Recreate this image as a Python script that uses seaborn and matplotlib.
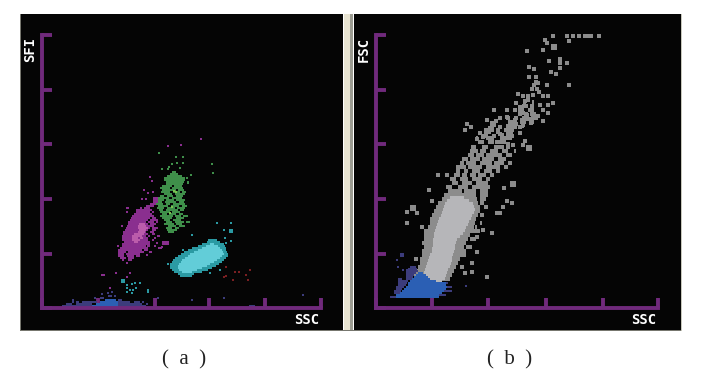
import matplotlib
matplotlib.use('Agg')
import matplotlib.pyplot as plt
from matplotlib.patches import Rectangle
import seaborn as sns

# tick channels, panels a and b
ticks_y = [0, 54, 109, 164, 218, 273]
ticks_a_x = [0, 56, 113, 167, 223, 279]
ticks_b_x = [0, 56, 112, 170, 227, 282]

# gated regions read row by row: (channel y, channel x from, channel x to)
green_rows = [(136, 130, 134), (134, 128, 136), (132, 125, 140), (130, 122, 143), (130, 144, 146), (128, 122, 143),
              (126, 124, 142), (126, 145, 147), (124, 124, 141), (122, 120, 130), (122, 132, 140), (120, 118, 128),
              (120, 130, 141), (118, 120, 134), (118, 136, 142), (116, 119, 128), (116, 131, 138), (116, 140, 144),
              (114, 122, 130), (114, 133, 143), (112, 118, 122), (112, 125, 131), (112, 134, 141), (110, 116, 127),
              (110, 130, 140), (108, 114, 122), (108, 124, 132), (108, 134, 143), (106, 116, 120), (106, 123, 134),
              (106, 137, 142), (104, 114, 121), (104, 124, 128), (104, 131, 143), (102, 116, 126), (102, 129, 137),
              (102, 140, 145), (100, 115, 122), (100, 125, 133), (100, 135, 143), (98, 117, 121), (98, 124, 136),
              (98, 138, 142), (96, 118, 128), (96, 130, 138), (94, 120, 125), (94, 127, 134), (94, 137, 141),
              (92, 118, 131), (92, 133, 139), (92, 141, 146), (90, 120, 130), (90, 134, 142), (88, 122, 128),
              (88, 131, 139), (86, 124, 130), (86, 133, 142), (86, 144, 148), (84, 122, 132), (84, 134, 140),
              (82, 126, 134), (82, 137, 143), (80, 124, 130), (80, 133, 137), (78, 125, 135), (76, 126, 132)]
magenta_rows = [(110, 111, 116), (108, 111, 116), (106, 111, 116), (104, 108, 114), (102, 104, 112), (100, 84, 87),
                (100, 98, 100), (100, 102, 108), (98, 94, 110), (96, 94, 108), (96, 110, 112), (94, 92, 110),
                (92, 90, 112), (90, 89, 108), (90, 110, 114), (88, 88, 106), (88, 108, 116), (86, 86, 104),
                (86, 106, 112), (86, 114, 116), (84, 86, 106), (84, 108, 114), (82, 85, 102), (82, 104, 112),
                (80, 84, 108), (80, 110, 116), (78, 83, 106), (78, 110, 114), (76, 81, 104), (76, 108, 112),
                (74, 81, 106), (74, 110, 113), (72, 80, 104), (72, 106, 108), (72, 115, 118), (70, 80, 106),
                (70, 112, 114), (68, 80, 106), (68, 110, 112), (66, 82, 108), (66, 120, 127), (64, 80, 108),
                (64, 120, 127), (62, 80, 104), (62, 105, 108), (62, 112, 114), (60, 78, 106), (60, 116, 120),
                (58, 76, 100), (58, 102, 106), (56, 76, 84), (56, 86, 102), (56, 108, 110), (54, 76, 82),
                (54, 84, 98), (52, 76, 82), (52, 85, 92), (52, 94, 98), (50, 78, 84), (50, 86, 92), (48, 80, 82), (48, 86, 90)]
magenta_core_rows = [(84, 97, 103), (82, 96, 104), (80, 96, 106), (78, 97, 104), (76, 96, 103), (74, 92, 102),
                     (72, 90, 100), (70, 90, 96), (70, 98, 101), (68, 90, 98), (66, 92, 96)]
cyan_rows = [(68, 166, 175), (66, 165, 178), (64, 160, 182), (62, 156, 183), (60, 150, 184), (58, 146, 184),
             (56, 142, 185), (54, 139, 186), (52, 136, 186), (50, 133, 184), (48, 131, 182), (46, 130, 180),
             (44, 128, 177), (42, 128, 174), (40, 128, 170), (38, 130, 166), (36, 132, 160), (34, 136, 152), (32, 138, 150)]
cyan_core_rows = [(64, 168, 172), (62, 164, 176), (60, 160, 178), (58, 156, 180), (56, 152, 181), (54, 148, 182),
                  (52, 146, 180), (50, 143, 178), (48, 140, 175), (46, 139, 172), (44, 137, 168), (42, 136, 165),
                  (40, 136, 160), (38, 137, 155), (36, 140, 150)]
blue_a_rows = [(8, 63, 74), (6, 58, 76), (4, 54, 76), (2, 50, 76)]
navy_a_rows = [(12, 66, 70), (12, 72, 74), (10, 52, 54), (10, 58, 62), (8, 30, 32), (8, 76, 80), (6, 30, 32), (6, 34, 37),
               (6, 40, 55), (6, 76, 88), (6, 92, 98), (6, 100, 102), (4, 24, 30), (4, 34, 50), (4, 76, 100),
               (4, 104, 106), (2, 20, 50), (2, 76, 104)]

gray_rows = [(206, 147, 150), (206, 156, 158), (202, 146, 152), (202, 155, 158), (198, 144, 148), (198, 152, 156),
             (194, 142, 146), (194, 148, 152), (194, 154, 160), (190, 130, 134), (190, 138, 142), (190, 146, 150),
             (190, 155, 162), (186, 132, 140), (186, 144, 150), (186, 153, 158), (182, 114, 118), (182, 130, 140),
             (182, 146, 148), (178, 114, 118), (178, 120, 124), (178, 128, 138), (174, 108, 112), (174, 122, 126),
             (174, 130, 137), (170, 100, 102), (170, 110, 118), (170, 124, 136), (166, 102, 108), (166, 112, 118),
             (166, 122, 130), (161, 95, 100), (161, 106, 112), (161, 118, 128), (161, 130, 134), (157, 94, 102), (157, 104, 110),
             (157, 114, 122), (157, 126, 132), (157, 138, 140), (153, 92, 98), (153, 100, 108), (153, 110, 126),
             (153, 130, 136), (149, 86, 92), (149, 94, 104), (149, 106, 118), (149, 122, 130), (145, 84, 88),
             (145, 90, 100), (145, 104, 116), (145, 118, 128), (145, 132, 136), (141, 80, 90), (141, 92, 106),
             (141, 110, 124), (141, 128, 132), (137, 80, 84), (137, 88, 92), (137, 96, 104), (137, 108, 116),
             (137, 120, 124), (133, 78, 84), (133, 86, 91), (133, 94, 100), (133, 102, 110), (133, 114, 118),
             (129, 74, 80), (129, 84, 92), (129, 96, 106), (129, 110, 114), (125, 76, 82), (125, 86, 96),
             (125, 100, 112), (121, 70, 76), (121, 82, 92), (121, 96, 114), (117, 72, 86), (117, 88, 100),
             (117, 104, 112), (113, 68, 100), (113, 104, 112), (109, 66, 101), (109, 104, 110), (105, 62, 102),
             (105, 104, 108), (101, 60, 104), (101, 108, 112), (97, 58, 104), (93, 56, 102), (93, 104, 108),
             (89, 54, 100), (85, 54, 99), (85, 104, 106), (81, 52, 98), (81, 99, 101), (77, 48, 100), (77, 96, 104),
             (73, 48, 94), (69, 48, 92), (69, 94, 100), (65, 46, 90), (61, 48, 88), (61, 90, 96), (57, 46, 90),
             (53, 46, 86), (53, 86, 90), (49, 44, 84), (45, 44, 82), (41, 42, 80), (41, 84, 88), (37, 40, 78),
             (33, 38, 76), (29, 40, 74)]
gray_core_rows = [(111, 74, 88), (108, 71, 93), (105, 69, 97), (102, 68, 98), (99, 67, 99), (96, 66, 98), (93, 65, 96),
                  (90, 63, 95), (87, 62, 93), (84, 61, 92), (81, 60, 90), (78, 59, 89), (75, 58, 87), (72, 58, 84),
                  (69, 57, 81), (66, 57, 80), (63, 57, 79), (60, 56, 79), (57, 56, 78), (54, 54, 77), (51, 53, 76),
                  (48, 52, 76), (45, 51, 75), (42, 50, 74), (39, 49, 72), (36, 48, 71), (33, 47, 70), (30, 47, 69),
                  (27, 52, 66)]
blue_b_rows = [(35, 42, 47), (33, 40, 50), (31, 38, 52), (29, 36, 54), (27, 34, 60), (25, 32, 70), (23, 32, 70),
               (21, 30, 71), (19, 28, 70), (17, 26, 68), (15, 24, 66), (13, 20, 63), (11, 20, 63)]
navy_b_rows = [(41, 34, 40), (39, 32, 41), (37, 30, 42), (35, 30, 40), (33, 30, 38), (31, 30, 37), (29, 22, 26),
               (29, 30, 36), (27, 22, 32), (25, 22, 31), (25, 66, 72), (23, 22, 30), (21, 20, 28), (21, 70, 76),
               (19, 20, 26), (17, 18, 25), (17, 66, 76), (15, 18, 24), (13, 63, 70), (11, 14, 22)]

# single events, panel a
green_x = [117, 134, 141, 130, 135, 141, 138, 120, 126, 170, 171, 149, 146, 123, 127]
green_y = [155, 151, 151, 144, 145, 145, 140, 139, 139, 144, 135, 133, 125, 129, 141]
lime_x = [134, 130, 128, 132]
lime_y = [116, 101, 95, 117]
magenta_x = [126, 139, 159, 108, 110, 102, 106, 111, 100, 104, 85, 80, 76, 85, 60, 62, 74, 85, 88, 68, 115, 120, 105, 108]
magenta_y = [162, 163, 169, 131, 127, 118, 115, 116, 109, 109, 96, 82, 62, 45, 33, 33, 35, 31, 35, 20, 65, 61, 53, 56]
cyan_x = [175, 189, 188, 190, 188, 190, 182, 189, 184, 183, 80, 82, 80, 82, 98, 106, 106, 126, 141, 150, 168, 178, 85, 85, 85, 90, 93, 88, 91, 94, 90]
cyan_y = [85, 85, 78, 78, 76, 76, 78, 67, 65, 70, 28, 28, 26, 26, 25, 18, 16, 44, 58, 73, 35, 38, 23, 20, 16, 24, 25, 18, 18, 20, 15]
red_x = [184, 193, 197, 208, 204, 184, 182, 191, 206]
red_y = [41, 36, 36, 38, 33, 32, 31, 28, 28]
navy_x = [116, 150, 182, 208, 210, 212, 261, 60, 66, 70]
navy_y = [10, 8, 10, 2, 2, 2, 13, 14, 15, 16]

# single events, panel b
gray_x = [177, 191, 197, 203, 209, 212, 215, 223, 169, 171, 177, 179, 177, 179, 193, 151, 167, 184, 184, 184, 191, 173, 175, 180,
          153, 158, 153, 160, 160, 158, 162, 171, 193, 156, 161, 163, 142, 147, 152, 157, 167, 172, 149, 152, 140, 177, 156,
          144, 164, 172, 118, 131, 139, 144, 156, 167, 172, 147, 151, 157, 131, 139, 146, 152, 156, 162, 167, 116, 111, 120,
          134, 155, 147, 139, 144, 91, 95, 89, 114, 124, 134, 113, 126, 134, 144, 134, 107, 101, 106, 114, 121, 126, 149, 137,
          147, 152, 154, 152, 154, 62, 71, 53, 36, 38, 36, 38, 31, 41, 31, 46, 56, 131, 136, 127, 121, 124, 116, 107, 101, 101,
          96, 96, 89, 111, 40, 136, 138, 136, 138, 128, 116, 118, 122, 130, 136, 128, 132, 110, 104, 108, 118, 136, 140, 124]
gray_y = [272, 272, 272, 272, 272, 272, 272, 272, 268, 265, 262, 262, 260, 260, 267, 257, 258, 249, 245, 240, 245, 247, 236, 234,
          241, 239, 231, 231, 226, 223, 225, 223, 223, 219, 219, 216, 214, 212, 212, 213, 212, 212, 207, 208, 205, 205, 202,
          201, 203, 203, 198, 198, 198, 198, 198, 198, 195, 195, 193, 192, 191, 188, 188, 189, 189, 192, 187, 185, 188, 187,
          184, 185, 183, 181, 181, 184, 181, 178, 180, 181, 180, 176, 173, 175, 175, 170, 171, 169, 166, 166, 166, 166, 167, 163,
          163, 161, 161, 159, 159, 133, 133, 118, 101, 101, 99, 99, 96, 95, 85, 81, 107, 107, 105, 101, 95, 95, 75, 78, 71, 56,
          45, 36, 35, 31, 49, 125, 125, 123, 123, 120, 170, 172, 176, 178, 172, 168, 164, 178, 175, 172, 183, 178, 184, 190]
navy_b_x = [25, 27, 25, 27, 21, 22, 27, 31, 90]
navy_b_y = [54, 54, 52, 52, 48, 41, 38, 38, 22]


def draw_rows(ax, rows, color, height=2.0):
    y, start, stop = zip(*rows)
    width = [b - a for a, b in zip(start, stop)]
    ax.barh(y, width, left=start, height=height, color=color, linewidth=0)


def draw_events(ax, x, y, color, size=3):
    sns.scatterplot(x=x, y=y, ax=ax, color=color, marker='s', s=size, linewidth=0, legend=False)


def setup_panel(left, right, origin, xticks):
    fig_w, fig_h = 702, 380
    ax = fig.add_axes([left / fig_w, 1 - 330 / fig_h, (right - left) / fig_w, 316 / fig_h])
    ax.set_facecolor('#050505')
    ax.set_xlim(left - origin, right - origin)
    ax.set_ylim(-22, 294)
    sns.despine(ax=ax)
    for side in ['bottom', 'left']:
        ax.spines[side].set_position(('data', 0))
        ax.spines[side].set_color(axis_color)
        ax.spines[side].set_linewidth(2.8)
        ax.spines[side].set_zorder(6)
    ax.spines['bottom'].set_bounds(0, xticks[-1])
    ax.spines['left'].set_bounds(0, ticks_y[-1])
    ax.set_xticks(xticks)
    ax.set_yticks(ticks_y)
    ax.tick_params(left=True, bottom=True, direction='in', length=7.5, width=2.8, color=axis_color,
                   labelbottom=False, labelleft=False, zorder=6)
    return ax


axis_color = '#702a7c'
sns.set_style('dark')
plt.rcParams['axes.grid'] = False
fig = plt.figure(figsize=(7.02, 3.80), dpi=100, facecolor='white')

ax_a = setup_panel(20, 343, 42, ticks_a_x)
ax_b = setup_panel(354, 681, 376, ticks_b_x)

# panel a
draw_rows(ax_a, green_rows, '#3f8f4a')
draw_events(ax_a, green_x, green_y, '#3f8f4a')
draw_events(ax_a, lime_x, lime_y, '#7cc34f')
draw_rows(ax_a, magenta_rows, '#8a2f8f')
draw_rows(ax_a, magenta_core_rows, '#bb5cab')
draw_events(ax_a, magenta_x, magenta_y, '#8a2f8f')
draw_rows(ax_a, cyan_rows, '#2b9aa3')
draw_rows(ax_a, cyan_core_rows, '#62cdd8')
draw_events(ax_a, cyan_x, cyan_y, '#2b9aa3')
draw_events(ax_a, red_x, red_y, '#7a1f22')
draw_rows(ax_a, navy_a_rows, '#3c3c7c')
draw_events(ax_a, navy_x, navy_y, '#3c3c7c')
draw_rows(ax_a, blue_a_rows, '#2b5fb4')

# panel b
draw_rows(ax_b, gray_rows, '#8c8c8c', height=3.4)
draw_events(ax_b, gray_x, gray_y, '#8c8c8c', size=5)
draw_rows(ax_b, gray_core_rows, '#b6b6b9', height=3.0)
draw_rows(ax_b, navy_b_rows, '#3c3c7c')
draw_events(ax_b, navy_b_x, navy_b_y, '#3c3c7c')
draw_rows(ax_b, blue_b_rows, '#2b5fb4')

label_font = dict(color='white', family='DejaVu Sans Mono', fontweight='bold', fontsize=10, ha='center', va='center')
ax_a.text(-12, 259, 'SFI', rotation=90, **label_font)
ax_a.text(265, -12, 'SSC', **label_font)
ax_b.text(-12, 259, 'FSC', rotation=90, **label_font)
ax_b.text(268, -12, 'SSC', **label_font)

# frame and divider between the two screenshots
for x, w, c in [(344, 6, '#e8e4d2'), (350, 3, '#9c9c92'), (20, 1, '#77776f'), (681, 1, '#c8c8bc')]:
    fig.add_artist(Rectangle((x / 702, 1 - 331 / 380), w / 702, 317 / 380, color=c, linewidth=0))
fig.add_artist(Rectangle((20 / 702, 1 - 331 / 380), 661 / 702, 1 / 380, color='#77776f', linewidth=0))

fig.text(184 / 702, 1 - 360 / 380, '(  a  )', family='Liberation Serif', fontsize=15, ha='center', va='center', color='#222222')
fig.text(510 / 702, 1 - 360 / 380, '(  b  )', family='Liberation Serif', fontsize=15, ha='center', va='center', color='#222222')

fig.savefig('out.png', dpi=100)
